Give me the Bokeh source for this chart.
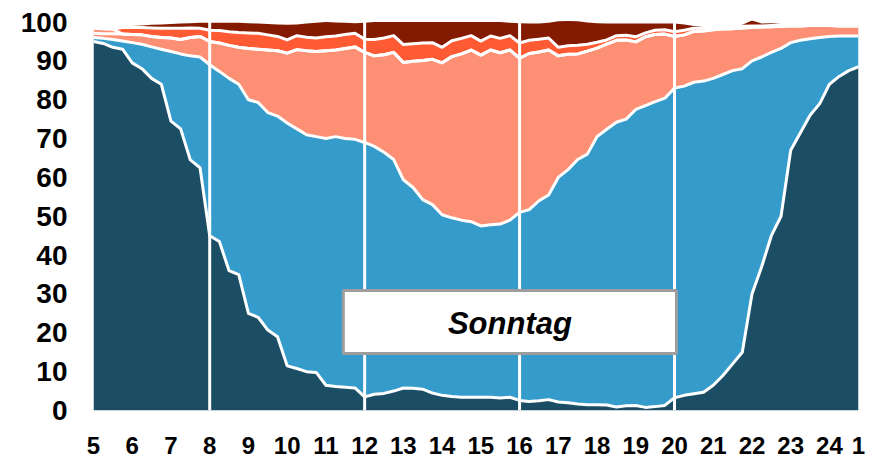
import numpy as np
from bokeh.plotting import figure
from bokeh.models import ColumnDataSource, Range1d, Span, BoxAnnotation, Label, FixedTicker
from bokeh.embed import file_html
from bokeh.resources import INLINE

# x: quarter-hour slots from 5:00 to 0:45
hours = [5 + 0.25 * i for i in range(80)]
tick_values = list(range(5, 25)) + [24.75]
tick_labels = [str(h) for h in range(5, 25)] + ["1"]
y_ticks = list(range(0, 101, 10))
shift_lines = [8, 12, 16, 20]
panel_title = "Sonntag"

layer1 = [95, 94.5, 93.5, 93, 89.5, 88, 85.5, 84, 74.5, 72.5, 64.5, 62.5, 45, 43.5, 36, 35,
          25, 24, 20.7, 19, 11.5, 10.8, 10, 9.8, 6.5, 6.2, 6, 5.8, 3.5, 4.2, 4.4, 5,
          5.8, 5.7, 5.5, 4.5, 3.9, 3.6, 3.4, 3.4, 3.4, 3.4, 3.2, 3.4, 2.6, 2.3, 2.5, 2.8,
          2.2, 2, 1.7, 1.5, 1.5, 1.4, 0.9, 1.2, 1.3, 0.8, 1.0, 1.3, 3.3, 3.9, 4.3, 4.7,
          6.5, 9, 12, 15, 30, 37, 45, 50, 67, 71.5, 76, 79, 84, 86, 87.5, 88.5]
layer2 = [1.0, 1.3, 2.0, 2.1, 5.2, 6.3, 8.1, 9.0, 17.9, 19.3, 26.8, 28.5, 44, 43.8, 49.5, 49,
          55, 55.3, 56, 56.8, 62.5, 61.7, 61, 60.7, 63.5, 64.3, 64, 64, 65.5, 63.8, 62.1, 59.6,
          53.6, 51.7, 48.8, 48.5, 46.5, 46, 45.6, 45.2, 44.1, 44.4, 44.8, 45.6, 48.4, 49.4, 51.5, 52.7,
          57.8, 60, 62.9, 64.5, 69, 71, 73.3, 73.8, 76.2, 77.7, 78.5, 79.1, 79.7, 79.6, 80.2, 80.1,
          79, 77.5, 75.5, 73, 60, 54, 47.2, 43.2, 27.7, 23.8, 19.7, 17, 12.3, 10.4, 8.9, 7.9]
layer3 = [1.1, 1.2, 1.5, 1.8, 2.1, 2.4, 2.7, 3.0, 3.5, 3.7, 4.7, 5.3, 6.0, 7.3, 8.5, 9.5,
          13.2, 13.7, 16.1, 16.8, 18.0, 20.4, 21.6, 21.9, 22.6, 22.3, 23.2, 23.8, 23.2, 23.3, 25.1, 27.6,
          30.2, 32.5, 35.8, 37.4, 39.1, 41.5, 42.8, 44.2, 44.0, 45.0, 44.1, 43.8, 39.7, 40.2, 38.3, 37.3,
          31.3, 29.7, 27.2, 26.5, 22.8, 21.9, 21.1, 20.4, 17.4, 17.7, 17.3, 16.5, 13.3, 13.2, 13.1, 12.9,
          12.5, 11.7, 10.8, 10.5, 8.6, 7.7, 6.6, 5.7, 4.3, 3.7, 3.4, 3.1, 2.8, 2.6, 2.6, 2.6]
layer4 = [1.3, 1.3, 1.2] + [0] * 77
layer5 = [0, 0, 0, 1.7, 1.8, 1.9, 2.2, 2.4, 2.5, 2.9, 2.5, 2.1, 2.9, 3.2, 3.5, 3.8,
          4.0, 4.1, 3.9, 3.7, 3.4, 3.6, 3.5, 3.5, 3.6, 3.6, 3.6, 3.5, 3.4, 4.2, 4.3, 4.3,
          4.6, 4.5, 4.5, 4.3, 4.0, 4.1, 4.0, 3.7, 3.6, 3.6, 3.7, 3.7, 3.9, 3.4, 3.3, 3.1,
          2.2, 2.2, 2.2, 1.8, 1.5, 1.1, 1.2, 1.2, 1.3, 1.0, 1.1, 1.1, 1.2, 1.2, 0.8, 0.7,
          0.6, 0.5, 0.5, 0.4, 0.4, 0.3, 0.3, 0.2, 0.2, 0.2, 0.2, 0.2, 0.2, 0.2, 0.2, 0.2]
layer6 = [0, 0, 0.1, 0.3, 0.4, 0.5, 0.8, 1.0, 1.1, 1.2, 1.2, 1.4, 1.9, 2.0, 2.3, 2.5,
          2.5, 2.5, 2.8, 3.1, 3.9, 2.9, 3.5, 3.9, 3.8, 3.5, 3.0, 2.6, 4.2, 4.5, 4.1, 3.5,
          5.8, 5.6, 5.4, 5.3, 6.5, 4.8, 4.2, 3.5, 4.9, 3.6, 4.2, 3.3, 5.1, 4.3, 4.0, 3.9,
          6.7, 6.4, 6.2, 5.6, 4.9, 4.2, 3.1, 3.0, 3.4, 2.4, 1.7, 1.6, 2.1, 1.5, 0.6, 0.3,
          0.1, 0.1, 0.1, 0.4, 1.4, 0.6, 0.6, 0.4, 0.1, 0.1, 0.1, 0.1, 0.1, 0.1, 0.1, 0.1]

names = ["l1", "l2", "l3", "l4", "l5", "l6"]
colors = ["#1b4d65", "#359bcb", "#fd8f74", "#fd8f74", "#fe5a33", "#841b00"]
layers = [layer1, layer2, layer3, layer4, layer5, layer6]

data = {"x": hours}
for n, l in zip(names, layers):
    data[n] = l
src = ColumnDataSource(data)

p = figure(width=878, height=465, output_backend="svg", toolbar_location=None,
           x_range=Range1d(5, 24.75), y_range=Range1d(0, 100.4),
           min_border_left=93, min_border_right=20, min_border_top=20, min_border_bottom=55,
           background_fill_color="white", border_fill_color="white")
p.outline_line_color = None
p.grid.visible = False

p.varea_stack(stackers=names, x="x", color=colors, source=src)

cum = np.cumsum(np.array(layers, dtype=float), axis=0)
for k in range(5):
    p.line(hours, cum[k], line_color="white", line_width=3, line_join="round")

for h in shift_lines:
    p.add_layout(Span(location=h, dimension="height", line_color="white", line_width=3))

p.add_layout(BoxAnnotation(left=11.45, right=20.05, bottom=14.7, top=30.9,
                           fill_color="white", fill_alpha=1.0,
                           line_color="#9d9d9d", line_width=3, line_alpha=1.0))
p.add_layout(Label(x=15.75, y=22.4, text=panel_title, text_align="center", text_baseline="middle",
                   text_font="Liberation Sans", text_font_style="bold italic",
                   text_font_size="31px", text_color="black"))

p.xaxis.ticker = FixedTicker(ticks=tick_values)
p.xaxis.major_label_overrides = {v: t for v, t in zip(tick_values, tick_labels)}
p.yaxis.ticker = FixedTicker(ticks=y_ticks)
for ax in (p.xaxis[0], p.yaxis[0]):
    ax.axis_line_color = None
    ax.major_tick_line_color = None
    ax.minor_tick_line_color = None
    ax.major_tick_in = 0
    ax.major_tick_out = 0
    ax.major_label_text_font = "Liberation Sans"
    ax.major_label_text_font_style = "bold"
    ax.major_label_text_color = "black"
p.xaxis.major_label_text_font_size = "24px"
p.yaxis.major_label_text_font_size = "28px"
p.xaxis.major_label_standoff = 26
p.yaxis.major_label_standoff = 26

open("out.html", "w").write(file_html(p, INLINE))
